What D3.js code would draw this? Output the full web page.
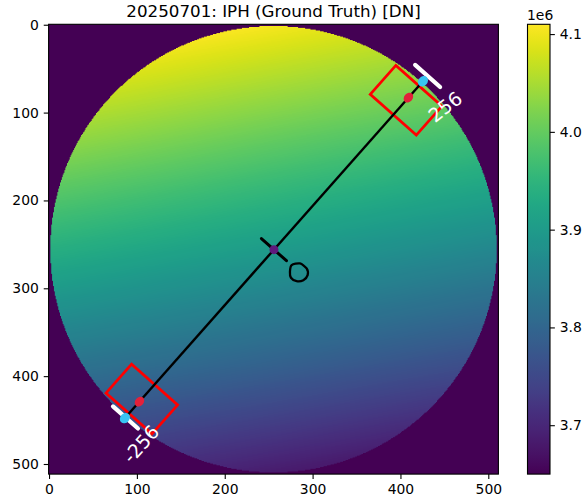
<!DOCTYPE html>
<html>
<head>
<meta charset="utf-8">
<script src="https://cdn.jsdelivr.net/npm/d3@7"></script>
<style>
  body { margin: 0; background: #fff; }
  svg { display: block; font-family: "DejaVu Sans", sans-serif; }
</style>
</head>
<body>
<svg id="chart" width="584" height="502"></svg>
<script>
// ---- data ----
const title = "20250701: IPH (Ground Truth) [DN]";
const imageSize = 512;
const xTicks = [0, 100, 200, 300, 400, 500];
const yTicks = [0, 100, 200, 300, 400, 500];
const cbarTicks = [3.7e6, 3.8e6, 3.9e6, 4.0e6, 4.1e6];
const cbarRange = [3.650e6, 4.110e6];
const cbarExponent = "1e6";

// IPH field sampled on a coarse pixel grid [DN]
const gridX = [0, 128, 256, 384, 511];
const gridY = [0, 128, 256, 384, 511];
const gridValues = [
  [4.143e6, 4.124e6, 4.105e6, 4.086e6, 4.066e6],
  [4.041e6, 4.022e6, 4.002e6, 3.983e6, 3.964e6],
  [3.938e6, 3.919e6, 3.900e6, 3.881e6, 3.862e6],
  [3.832e6, 3.813e6, 3.794e6, 3.774e6, 3.755e6],
  [3.720e6, 3.701e6, 3.682e6, 3.663e6, 3.644e6]
];
const diskCenter = [255.5, 255.5];
const diskRadius = 254;

// diagonal profile through the disk centre
const profileCenter = [256, 256];
const profileAngleDeg = 48.5;
const profileEnds = [-256, 256];
const profileEndLabels = ["-256", "256"];
const sampleOffsets = [-231, 231];
const roiOffsets = [-227, 227];
const roiAlong = 44;
const roiAcross = 70;

// ---- layout ----
const plot = { left: 48.6, top: 24.3, size: 449.8 };
const cbar = { left: 527.5, width: 22.5 };
const tickLen = 4.86, tickPad = 4.86, tickFont = 13.9;

const svg = d3.select("#chart");
const x = d3.scaleLinear().domain([-0.5, imageSize - 0.5]).range([plot.left, plot.left + plot.size]);
const y = d3.scaleLinear().domain([-0.5, imageSize - 0.5]).range([plot.top, plot.top + plot.size]);
const norm = d3.scaleLinear().domain(cbarRange).range([0, 255]).clamp(true);
const lut = d3.range(256).map(i => d3.rgb(d3.interpolateViridis(i / 255)));

// ---- raster of the field ----
const gxi = d3.scaleLinear().domain(gridX).range(d3.range(gridX.length));
const gyi = d3.scaleLinear().domain(gridY).range(d3.range(gridY.length));
function fieldAt(px, py) {
  const fx = gxi(px), fy = gyi(py);
  const i0 = Math.max(0, Math.min(gridX.length - 2, Math.floor(fx)));
  const j0 = Math.max(0, Math.min(gridY.length - 2, Math.floor(fy)));
  const tx = fx - i0, ty = fy - j0;
  const a = gridValues[j0][i0], b = gridValues[j0][i0 + 1];
  const c = gridValues[j0 + 1][i0], d = gridValues[j0 + 1][i0 + 1];
  return (a * (1 - tx) + b * tx) * (1 - ty) + (c * (1 - tx) + d * tx) * ty;
}
const canvas = document.createElement("canvas");
canvas.width = imageSize; canvas.height = imageSize;
const ctx = canvas.getContext("2d");
const img = ctx.createImageData(imageSize, imageSize);
for (let j = 0; j < imageSize; j++) {
  for (let i = 0; i < imageSize; i++) {
    const dx = i - diskCenter[0], dy = j - diskCenter[1];
    const v = (dx * dx + dy * dy <= diskRadius * diskRadius) ? fieldAt(i, j) : cbarRange[0];
    const c = lut[Math.round(norm(v))];
    const k = (j * imageSize + i) * 4;
    img.data[k] = c.r; img.data[k + 1] = c.g; img.data[k + 2] = c.b; img.data[k + 3] = 255;
  }
}
ctx.putImageData(img, 0, 0);

svg.append("image")
  .attr("href", canvas.toDataURL())
  .attr("x", x(-0.5)).attr("y", y(-0.5))
  .attr("width", x(imageSize - 0.5) - x(-0.5))
  .attr("height", y(imageSize - 0.5) - y(-0.5))
  .attr("preserveAspectRatio", "none");

// ---- profile overlay ----
const th = profileAngleDeg * Math.PI / 180;
const u = [Math.cos(th), -Math.sin(th)];      // along the profile (data coords, y down)
const p = [Math.sin(th), Math.cos(th)];       // across the profile
const at = (s, q = 0) => [profileCenter[0] + u[0] * s + p[0] * q, profileCenter[1] + u[1] * s + p[1] * q];
const sx = d => x(d[0]), sy = d => y(d[1]);
const rotDeg = -profileAngleDeg;
const over = svg.append("g");

// rectangles around the sampling points
roiOffsets.forEach(s => {
  const corners = [[-roiAlong / 2, -roiAcross / 2], [roiAlong / 2, -roiAcross / 2],
                   [roiAlong / 2, roiAcross / 2], [-roiAlong / 2, roiAcross / 2]]
    .map(([a, q]) => at(s + a, q));
  over.append("path")
    .attr("d", d3.line().x(sx).y(sy)(corners) + "Z")
    .attr("fill", "none").attr("stroke", "#ff0000").attr("stroke-width", 2.7)
    .attr("stroke-linejoin", "miter");
});

// the profile line
over.append("line")
  .attr("x1", sx(at(profileEnds[0]))).attr("y1", sy(at(profileEnds[0])))
  .attr("x2", sx(at(profileEnds[1]))).attr("y2", sy(at(profileEnds[1])))
  .attr("stroke", "#000").attr("stroke-width", 2.4);

// end ticks
profileEnds.forEach((s, i) => {
  const shift = i === 1 ? 8 : 1;
  const a = at(s + shift, -19), b = at(s + shift, 19);
  over.append("line")
    .attr("x1", sx(a)).attr("y1", sy(a)).attr("x2", sx(b)).attr("y2", sy(b))
    .attr("stroke", "#fff").attr("stroke-width", 4.2).attr("stroke-linecap", "round");
});

// sample points
sampleOffsets.forEach(s => {
  const c = at(s);
  over.append("ellipse")
    .attr("cx", sx(c)).attr("cy", sy(c)).attr("rx", 4.2).attr("ry", 5.4)
    .attr("transform", `rotate(${rotDeg + 90} ${sx(c)} ${sy(c)})`)
    .attr("fill", "#e3203a");
});
profileEnds.forEach(s => {
  const c = at(s);
  over.append("ellipse")
    .attr("cx", sx(c)).attr("cy", sy(c)).attr("rx", 4.6).attr("ry", 5.6)
    .attr("transform", `rotate(${rotDeg + 90} ${sx(c)} ${sy(c)})`)
    .attr("fill", "#38c4f2");
});

// end labels
const labelPos = [[-10, 33], [-5, 38]];
const labelRot = [-48, -38];
profileEnds.forEach((s, i) => {
  const c = at(s + labelPos[i][0], labelPos[i][1]);
  over.append("text")
    .attr("x", sx(c)).attr("y", sy(c))
    .attr("transform", `rotate(${labelRot[i]} ${sx(c)} ${sy(c)})`)
    .attr("text-anchor", "middle").attr("dominant-baseline", "central")
    .attr("font-size", 19).attr("fill", "#fff")
    .text(profileEndLabels[i]);
});

// centre mark
const cc = at(0);
{
  const a = at(0, -19), b = at(0, 19);
  over.append("line")
    .attr("x1", sx(a)).attr("y1", sy(a)).attr("x2", sx(b)).attr("y2", sy(b))
    .attr("stroke", "#000").attr("stroke-width", 3).attr("stroke-linecap", "round");
  over.append("circle").attr("cx", sx(cc)).attr("cy", sy(cc)).attr("r", 4.5).attr("fill", "#5e1a7c");
}
// hand-drawn zero next to the centre
{
  const z = at(0, 38);
  const loop = [[-7.3, -6.6], [1, -8.3], [7.7, -3.3], [8.7, 3.4], [4.4, 8.4], [-2.3, 9.4], [-8, 6], [-9, 0]];
  over.append("path")
    .attr("d", d3.line().curve(d3.curveCardinalClosed.tension(0.2))(loop.map(([a, b]) => [sx(z) + a, sy(z) + b])))
    .attr("fill", "none").attr("stroke", "#000").attr("stroke-width", 2.3);
}

// ---- frame and axes ----
svg.append("rect")
  .attr("x", plot.left).attr("y", plot.top).attr("width", plot.size).attr("height", plot.size)
  .attr("fill", "none").attr("stroke", "#000").attr("stroke-width", 1.1);

const styleAxis = g => {
  g.select(".domain").remove();
  g.selectAll(".tick line").attr("stroke", "#000").attr("stroke-width", 1.1);
  g.selectAll(".tick text").attr("fill", "#000").attr("font-size", tickFont).attr("font-family", "DejaVu Sans");
};
svg.append("g").attr("transform", `translate(0,${plot.top + plot.size})`)
  .call(d3.axisBottom(x).tickValues(xTicks).tickSize(tickLen).tickPadding(tickPad))
  .call(styleAxis);
svg.append("g").attr("transform", `translate(${plot.left},0)`)
  .call(d3.axisLeft(y).tickValues(yTicks).tickSize(tickLen).tickPadding(tickPad))
  .call(styleAxis);

svg.append("text")
  .attr("x", plot.left + plot.size / 2).attr("y", 17)
  .attr("text-anchor", "middle").attr("font-size", 16.7).attr("fill", "#000")
  .text(title);

// ---- colorbar ----
const cy = d3.scaleLinear().domain(cbarRange).range([plot.top + plot.size, plot.top]);
const grad = svg.append("defs").append("linearGradient")
  .attr("id", "cbarGrad").attr("x1", 0).attr("y1", 1).attr("x2", 0).attr("y2", 0);
d3.range(0, 1.0001, 0.02).forEach(t => {
  grad.append("stop").attr("offset", t).attr("stop-color", d3.interpolateViridis(t));
});
svg.append("rect")
  .attr("x", cbar.left).attr("y", plot.top).attr("width", cbar.width).attr("height", plot.size)
  .attr("fill", "url(#cbarGrad)").attr("stroke", "#000").attr("stroke-width", 1.1);
svg.append("g").attr("transform", `translate(${cbar.left + cbar.width},0)`)
  .call(d3.axisRight(cy).tickValues(cbarTicks).tickSize(tickLen).tickPadding(tickPad)
    .tickFormat(d => (d / 1e6).toFixed(1)))
  .call(styleAxis);
svg.append("text")
  .attr("x", cbar.left - 0.5).attr("y", 20)
  .attr("font-size", tickFont).attr("fill", "#000")
  .text(cbarExponent);
</script>
</body>
</html>
